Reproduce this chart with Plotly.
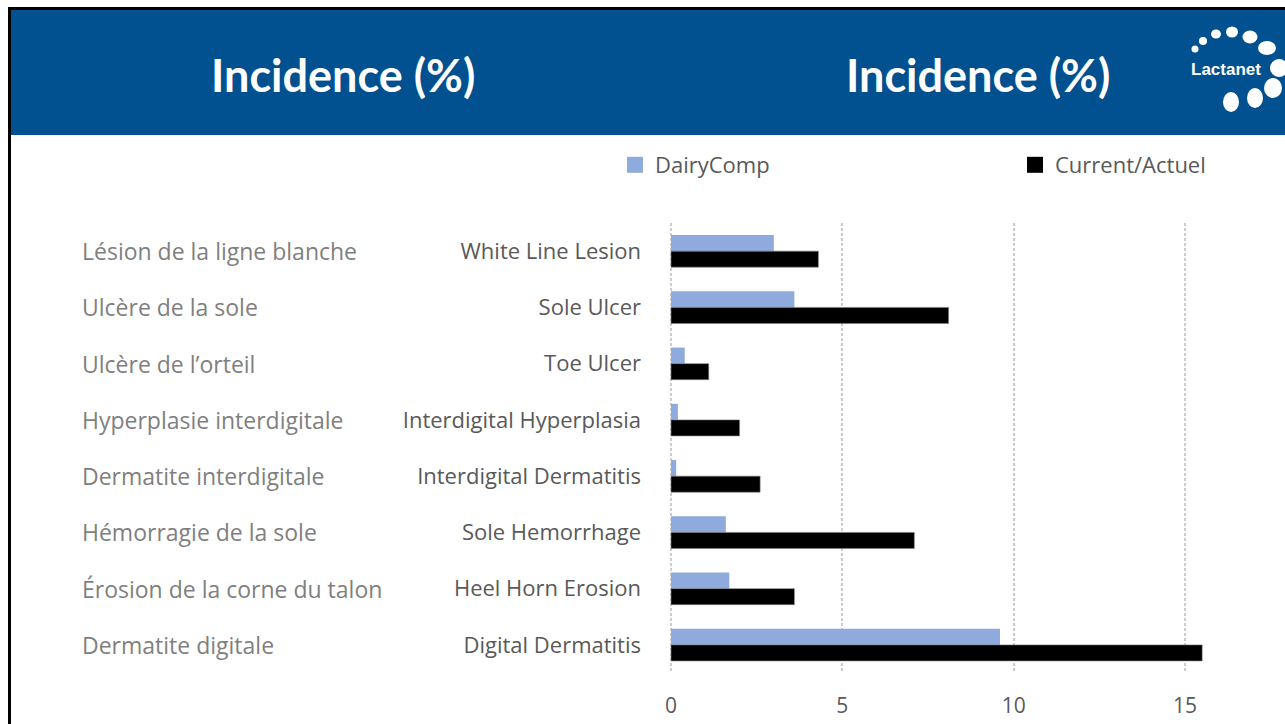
import plotly.graph_objects as go

# ---- data ----
categories = ["White Line Lesion", "Sole Ulcer", "Toe Ulcer", "Interdigital Hyperplasia",
              "Interdigital Dermatitis", "Sole Hemorrhage", "Heel Horn Erosion", "Digital Dermatitis"]
french_labels = ["Lésion de la ligne blanche", "Ulcère de la sole", "Ulcère de l’orteil",
                 "Hyperplasie interdigitale", "Dermatite interdigitale", "Hémorragie de la sole",
                 "Érosion de la corne du talon", "Dermatite digitale"]
dairycomp = [3.0, 3.6, 0.4, 0.2, 0.15, 1.6, 1.7, 9.6]
current = [4.3, 8.1, 1.1, 2.0, 2.6, 7.1, 3.6, 15.5]
x_ticks = [0, 5, 10, 15]
series_names = ["DairyComp", "Current/Actuel"]
series_colors = ["#8FAADC", "#000000"]
title_text = "Incidence (%)"

# body margin removed by post_script: figure pixel = page pixel
W, H = 1285, 724
L, T = 670, 223
R, B = 0, 724 - 673
PW, PH = W - L - R, H - T - B
SCALE = 514 / 15  # px per unit
XMIN = -0.03


def px(x):  # page pixel -> paper
    return (x - L) / PW


def py(y):
    return (H - B - y) / PH


FONT = "Open Sans"
TFONT = "Lato"
BLUE = "#01508F"

fig = go.Figure()
fig.add_bar(y=categories, x=dairycomp, orientation="h", name=series_names[0], showlegend=False,
            marker=dict(color=series_colors[0], line=dict(width=0)))
fig.add_bar(y=categories, x=current, orientation="h", name=series_names[1], showlegend=False,
            marker=dict(color=series_colors[1], line=dict(color="#808080", width=0.6)))
# legend entries (square swatches)
for name, col, lg in zip(series_names, series_colors, ["legend", "legend2"]):
    fig.add_scatter(x=[None], y=[None], mode="markers", name=name, legend=lg,
                    marker=dict(symbol="square", size=16, color=col))

shapes = []
# frame + header
shapes.append(dict(type="rect", xref="paper", yref="paper", x0=px(9.5), x1=px(1300), y0=py(8.5), y1=py(740),
                   line=dict(color="black", width=3), fillcolor="rgba(0,0,0,0)", layer="above"))
shapes.append(dict(type="rect", xref="paper", yref="paper", x0=px(11), x1=px(1300), y0=py(10), y1=py(135),
                   line=dict(width=0), fillcolor=BLUE, layer="below"))
# logo dots (center x, center y, rx, ry)
dots = [(1195, 49, 3.5, 3.5), (1203, 41, 4, 4), (1216, 34, 5, 4.5), (1232, 32, 6, 5.5),
        (1250, 37, 7.5, 6.5), (1267, 48, 9, 7), (1279, 68, 9, 9), (1273, 88, 9, 10),
        (1255, 98, 8, 10), (1231, 102, 8, 10)]
for cx, cy, rx, ry in dots:
    shapes.append(dict(type="circle", xref="paper", yref="paper", x0=px(cx - rx), x1=px(cx + rx),
                       y0=py(cy - ry), y1=py(cy + ry), fillcolor="white", line=dict(width=0), layer="above"))

annotations = []
for cx in (343, 978):
    annotations.append(dict(text=f"<b>{title_text}</b>", xref="paper", yref="paper", x=px(cx), y=py(75),
                            xanchor="center", yanchor="middle", showarrow=False,
                            font=dict(family=TFONT, size=45, color="white")))
annotations.append(dict(text="<b>Lactanet</b>", xref="paper", yref="paper", x=px(1226), y=py(69),
                        xanchor="center", yanchor="middle", showarrow=False,
                        font=dict(family="Liberation Sans", size=17, color="white")))
for lab, cat in zip(french_labels, categories):
    annotations.append(dict(text=lab, xref="paper", yref="y", x=px(83), y=cat, xanchor="left",
                            yanchor="middle", showarrow=False, xshift=-3,
                            font=dict(family=FONT, size=23, color="#7f7f7f")))

legend_common = dict(orientation="h", xanchor="left", yanchor="middle", bgcolor="rgba(0,0,0,0)",
                     itemsizing="trace", font=dict(family=FONT, size=22, color="#595959"))

fig.update_layout(
    width=W, height=H, template="none",
    margin=dict(l=L, r=R, t=T, b=B, pad=0),
    paper_bgcolor="white", plot_bgcolor="white",
    barmode="group", bargap=0.43, bargroupgap=0,
    font=dict(family=FONT, size=20, color="#595959"),
    showlegend=True,
    legend=dict(x=px(615), y=py(165), **legend_common),
    legend2=dict(x=px(1015), y=py(165), **legend_common),
    xaxis=dict(range=[XMIN, XMIN + PW / SCALE], tickvals=x_ticks, showgrid=True, gridcolor="#cccccc",
               griddash="3px,2px", gridwidth=1.5, zeroline=False, showline=False, ticks="",
               ticklabelstandoff=18, automargin=False,
               tickfont=dict(family=FONT, size=21, color="#595959")),
    yaxis=dict(type="category", categoryarray=categories, categoryorder="array", range=[7.5, -0.5],
               showgrid=False, zeroline=False, showline=False, ticks="", ticklabelstandoff=28,
               automargin=False, tickfont=dict(family=FONT, size=22, color="#595959")),
    shapes=shapes, annotations=annotations,
)

fig.write_html("out.html", config={"displayModeBar": False},
               post_script="document.body.style.margin='0px';document.body.style.overflow='hidden';")
